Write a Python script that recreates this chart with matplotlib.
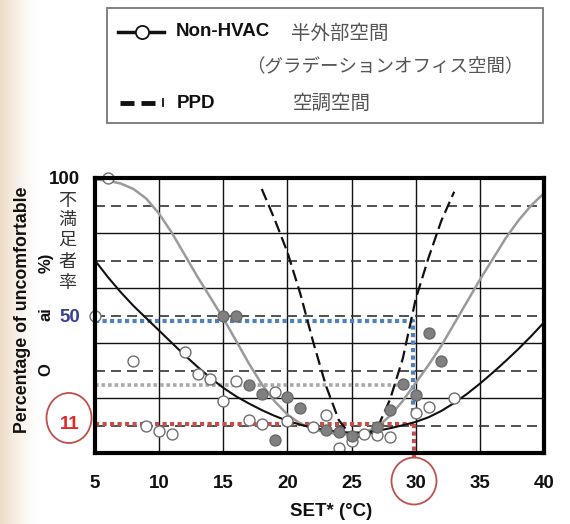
import matplotlib
matplotlib.use("Agg")
import numpy as np
import matplotlib.pyplot as plt
from matplotlib.patches import Rectangle, Ellipse
from matplotlib.lines import Line2D

plt.rcParams['font.family'] = ['Liberation Sans', 'Noto Sans CJK JP', 'DejaVu Sans']

# ---------------- data ----------------
set_x = list(range(5, 41))
nonhvac_curve = [70, 64, 58.5, 53.5, 49, 44.5, 40, 35.5, 31.3, 27.3, 23.7, 20.6, 18,
                 15.6, 13.5, 11.7, 10.3, 9.2, 8.3, 7.7, 7.4, 7.5, 8.1, 9, 10.1, 11.3,
                 13, 15.3, 18.2, 21.5, 25.2, 29.2, 33.4, 37.8, 42.5, 47.5]
gray_curve = [99.5, 99, 98, 96, 92.5, 87, 80, 72, 64, 56.5, 49, 40.8, 32.5, 25, 18.8,
              14, 10.7, 8.7, 7.5, 6.9, 6.7, 7.4, 9.5, 13.5, 19, 25.5, 32, 39, 47, 55,
              63, 70.5, 78, 84.5, 90, 94.5]
ppd_x = list(range(18, 34))
ppd_y = [96, 85, 73, 58, 40.5, 24.5, 12, 6, 5.5, 9, 19.5, 34.5, 56, 71, 84.5, 95]

open_x = [6, 5, 8, 12, 13, 14, 16, 15, 9, 10, 11, 17, 18, 19, 20, 22, 23, 24, 25,
          26, 27, 28, 30, 31, 33]
open_y = [100, 50, 33.5, 36.8, 28.8, 26.9, 26.3, 19, 9.7, 8.1, 6.9, 11.9, 10.6, 22.3,
          11.8, 9.6, 13.7, 1.9, 4.2, 6.8, 6.5, 5.9, 14.4, 16.8, 20.1]
filled_x = [15, 16, 17, 18, 20, 21, 19, 23, 24, 25, 27, 28, 29, 30, 31, 32]
filled_y = [49.8, 49.8, 24.8, 21.3, 20.2, 16.3, 4.7, 8.2, 7.7, 6.2, 9.6, 15.7, 25,
            21, 43.7, 33.3]

x_ticks = [5, 10, 15, 20, 25, 30, 35, 40]
y_marks = [100, 50, 11]
y_mark_labels = ['100', '50', '11']
y_mark_colors = ['#111111', '#3a3f99', '#e02a2a']

blue_level, blue_x = 48, 29.8
red_level, red_x = 10.6, 29.9
gray_level, gray_x = 24.8, 28.9

# ---------------- figure ----------------
W, H = 570, 524
fig = plt.figure(figsize=(W / 100, H / 100), dpi=100)
fig.patch.set_facecolor('white')

def fx(px):
    return px / W

def fy(py):
    return 1 - py / H

# faint blurred backdrop strip on the left (as in the slide screenshot)
bg = fig.add_axes([0, 0, 40 / W, 1], zorder=-5)
g = np.linspace(0, 1, 64)[None, :]
rgba = np.zeros((1, 64, 4))
rgba[..., 0] = 0.88
rgba[..., 1] = 0.74
rgba[..., 2] = 0.60
rgba[..., 3] = 0.55 * (1 - g) ** 1.5
bg.imshow(rgba, aspect='auto', extent=[0, 1, 0, 1])
bg.set_axis_off()

ax = fig.add_axes([fx(95), fy(453), (544 - 95) / W, (453 - 178) / H])
ax.set_xlim(5, 40)
ax.set_ylim(0, 100)
ax.set_facecolor('white')

# grid
for xv in range(10, 40, 5):
    ax.axvline(xv, color='#111111', lw=1.0, zorder=1)
for yv in (20, 40, 60, 80):
    ax.axhline(yv, color='#111111', lw=1.0, zorder=1)
for yv in (10, 30, 50, 70, 90):
    ax.axhline(yv, color='#333333', lw=1.2, dashes=(6, 3.6), zorder=1)

for s in ax.spines.values():
    s.set_linewidth(3)
    s.set_color('black')
    s.set_zorder(6)

# reference dotted lines
dot = (0, (1, 0.8))
ax.plot([5, gray_x], [gray_level, gray_level], color='#a9a9a9', lw=2.6,
        linestyle=dot, zorder=2)
ax.plot([5, blue_x, blue_x], [blue_level, blue_level, 14.5], color='#4f81bd', lw=3,
        linestyle=dot, zorder=2)
ax.plot([5, red_x], [red_level, red_level], color='#c0504d', lw=3, linestyle=dot,
        zorder=2)
ax.plot([red_x, red_x], [red_level, -3], color='#c0504d', lw=3, linestyle=dot,
        zorder=2, clip_on=False)

# curves
ax.plot(set_x, gray_curve, color='#9a9a9a', lw=1.8, zorder=3, solid_joinstyle='round')
ax.plot(set_x, nonhvac_curve, color='#111111', lw=1.5, zorder=3, solid_joinstyle='round')
ax.plot(ppd_x, ppd_y, color='#111111', lw=1.6, dashes=(5.4, 2.4), zorder=3)

# points
ax.scatter(open_x, open_y, s=62, facecolor='white', edgecolor='#6e6e6e',
           linewidth=1.0, zorder=5, clip_on=False)
ax.scatter(filled_x, filled_y, s=62, facecolor='#808080', edgecolor='#6a6a6a',
           linewidth=1.0, zorder=5, clip_on=False)

# ticks
ax.set_xticks(x_ticks)
ax.set_xticklabels([str(t) for t in x_ticks], fontsize=13.5, fontweight='bold',
                   color='#111111')
ax.tick_params(axis='x', length=0, pad=16)
ax.set_yticks(y_marks)
ax.set_yticklabels(y_mark_labels, fontsize=13.5, fontweight='bold')
for lab, c in zip(ax.get_yticklabels(), y_mark_colors):
    lab.set_color(c)
ax.tick_params(axis='y', length=0, pad=11)

# labels
fig.text(fx(331), fy(511), 'SET* (°C)', fontsize=13.5, fontweight='bold',
         ha='center', va='center', color='#111111')
fig.text(fx(23), fy(310), 'Percentage of uncomfortable', rotation=90, fontsize=12.8,
         fontweight='bold', ha='center', va='center', color='#111111')
fig.text(fx(46), fy(263), '%)', rotation=90, fontsize=12, fontweight='bold',
         ha='center', va='center', color='#111111')
fig.text(fx(46), fy(314), 'ai', rotation=90, fontsize=12, fontweight='bold',
         ha='center', va='center', color='#111111')
fig.text(fx(46), fy(370), 'O', rotation=90, fontsize=12, fontweight='bold',
         ha='center', va='center', color='#111111')
for ch, yy in zip('不満足者率', [201, 220, 240, 262, 283]):
    fig.text(fx(67), fy(yy), ch, fontsize=13, ha='center', va='center',
             color='#333333', family=['Noto Sans CJK JP'])

# circles
fig.patches.append(Ellipse((fx(69), fy(418)), 45 / W, 50 / H, transform=fig.transFigure,
                           fill=False, edgecolor='#c0504d', lw=1.3))
fig.patches.append(Ellipse((fx(414), fy(481)), 45 / W, 47 / H, transform=fig.transFigure,
                           fill=False, edgecolor='#c0504d', lw=1.3))

# legend box
fig.patches.append(Rectangle((fx(107), fy(123)), (543 - 107) / W, (123 - 8) / H,
                             transform=fig.transFigure, facecolor='white',
                             edgecolor='#777777', lw=1.3, zorder=0))
fig.lines.append(Line2D([fx(118), fx(164)], [fy(32), fy(32)], transform=fig.transFigure,
                        color='#111111', lw=2.5))
fig.lines.append(Line2D([fx(142)], [fy(32)], transform=fig.transFigure, marker='o',
                        markersize=9.5, markerfacecolor='white',
                        markeredgecolor='#111111', markeredgewidth=1.3))
fig.text(fx(176), fy(32), 'Non-HVAC', fontsize=13.5, fontweight='bold', ha='left',
         va='center', color='#111111')
fig.text(fx(291), fy(33), '半外部空間', fontsize=14, ha='left', va='center',
         color='#555555', family=['Noto Sans CJK JP'])
fig.text(fx(246), fy(66), '（グラデーションオフィス空間）', fontsize=13.3, ha='left',
         va='center', color='#555555', family=['Noto Sans CJK JP'])
for a, b in ((120, 134), (141, 155)):
    fig.lines.append(Line2D([fx(a), fx(b)], [fy(103), fy(103)], transform=fig.transFigure,
                            color='#111111', lw=3.5, solid_capstyle='butt'))
fig.lines.append(Line2D([fx(163), fx(163)], [fy(99), fy(106)], transform=fig.transFigure,
                        color='#111111', lw=1.3))
fig.text(fx(177), fy(104), 'PPD', fontsize=13.5, fontweight='bold', ha='left',
         va='center', color='#111111')
fig.text(fx(293), fy(103), '空調空間', fontsize=14, ha='left', va='center',
         color='#555555', family=['Noto Sans CJK JP'])

fig.savefig('out.png', dpi=100, facecolor='white')
